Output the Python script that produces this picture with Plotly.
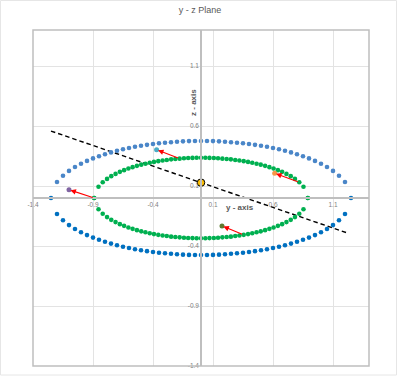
import plotly.graph_objects as go

# ---------------- data ----------------
outer_upper_y = [-1.2, -1.15, -1.1, -1.05, -1.0, -0.95, -0.9, -0.85, -0.8, -0.75, -0.7, -0.65, -0.6,
                 -0.55, -0.5, -0.45, -0.4, -0.35, -0.3, -0.25, -0.2, -0.15, -0.1, -0.05, 0.0,
                 0.05, 0.1, 0.15, 0.2, 0.25, 0.3, 0.35, 0.4, 0.45, 0.5, 0.55, 0.6, 0.65, 0.7,
                 0.75, 0.8, 0.85, 0.9, 0.95, 1.0, 1.05, 1.1, 1.15, 1.2]
outer_upper_z = [0.133, 0.186, 0.226, 0.258, 0.285, 0.309, 0.330, 0.348, 0.365, 0.380, 0.394, 0.406, 0.417,
                 0.427, 0.435, 0.443, 0.450, 0.456, 0.461, 0.465, 0.469, 0.472, 0.474, 0.475, 0.475,
                 0.475, 0.474, 0.472, 0.469, 0.465, 0.461, 0.456, 0.450, 0.443, 0.435, 0.427, 0.417, 0.406, 0.394,
                 0.380, 0.365, 0.348, 0.330, 0.309, 0.285, 0.258, 0.226, 0.186, 0.133]

outer_lower_y = [-1.25, -1.2, -1.15, -1.1, -1.05, -1.0, -0.95, -0.9, -0.85, -0.8, -0.75, -0.7, -0.65, -0.6,
                 -0.55, -0.5, -0.45, -0.4, -0.35, -0.3, -0.25, -0.2, -0.15, -0.1, -0.05, 0.0,
                 0.05, 0.1, 0.15, 0.2, 0.25, 0.3, 0.35, 0.4, 0.45, 0.5, 0.55, 0.6, 0.65, 0.7,
                 0.75, 0.8, 0.85, 0.9, 0.95, 1.0, 1.05, 1.1, 1.15, 1.2, 1.25]
outer_lower_z = [0.0, -0.133, -0.186, -0.226, -0.258, -0.285, -0.309, -0.330, -0.348, -0.365, -0.380, -0.394, -0.406, -0.417,
                 -0.427, -0.435, -0.443, -0.450, -0.456, -0.461, -0.465, -0.469, -0.472, -0.474, -0.475, -0.475,
                 -0.475, -0.474, -0.472, -0.469, -0.465, -0.461, -0.456, -0.450, -0.443, -0.435, -0.427, -0.417, -0.406, -0.394,
                 -0.380, -0.365, -0.348, -0.330, -0.309, -0.285, -0.258, -0.226, -0.186, -0.133, 0.0]

inner_y = [-0.890, -0.854, -0.819, -0.783, -0.748, -0.712, -0.676, -0.641, -0.605, -0.570, -0.534, -0.498, -0.463,
           -0.427, -0.392, -0.356, -0.320, -0.285, -0.249, -0.214, -0.178, -0.142, -0.107, -0.071, -0.036, 0.0,
           0.036, 0.071, 0.107, 0.142, 0.178, 0.214, 0.249, 0.285, 0.320, 0.356, 0.392, 0.427, 0.463,
           0.498, 0.534, 0.570, 0.605, 0.641, 0.676, 0.712, 0.748, 0.783, 0.819, 0.854, 0.890]
inner_upper_z = [0.0, 0.094, 0.131, 0.159, 0.182, 0.201, 0.218, 0.232, 0.246, 0.257, 0.268, 0.278, 0.286,
                 0.294, 0.301, 0.307, 0.313, 0.317, 0.322, 0.325, 0.328, 0.331, 0.333, 0.334, 0.335, 0.335,
                 0.335, 0.334, 0.333, 0.331, 0.328, 0.325, 0.322, 0.317, 0.313, 0.307, 0.301, 0.294, 0.286,
                 0.278, 0.268, 0.257, 0.246, 0.232, 0.218, 0.201, 0.182, 0.159, 0.131, 0.094, 0.0]
inner_lower_z = [0.0, -0.094, -0.131, -0.159, -0.182, -0.201, -0.218, -0.232, -0.246, -0.257, -0.268, -0.278, -0.286,
                 -0.294, -0.301, -0.307, -0.313, -0.317, -0.322, -0.325, -0.328, -0.331, -0.333, -0.334, -0.335, -0.335,
                 -0.335, -0.334, -0.333, -0.331, -0.328, -0.325, -0.322, -0.317, -0.313, -0.307, -0.301, -0.294, -0.286,
                 -0.278, -0.268, -0.257, -0.246, -0.232, -0.218, -0.201, -0.182, -0.159, -0.131, -0.094, 0.0]

line_y = [-1.25, 1.23]
line_z = [0.558, -0.295]

center_y = [0.0]
center_z = [0.128]

point_y = [-1.10, -0.37, 0.614, 0.175]
point_z = [0.069, 0.403, 0.206, -0.233]
point_colors = ["#8064a2", "#4bacc6", "#f79646", "#5f7a30"]

arrow_tail_y = [-0.890, -0.178, 0.819, 0.356]
arrow_tail_z = [0.0, 0.328, 0.131, -0.307]

x_ticks = [-1.4, -0.9, -0.4, 0.1, 0.6, 1.1]
z_ticks = [-1.4, -0.9, -0.4, 0.1, 0.6, 1.1]

# ---------------- figure ----------------
fig = go.Figure()

fig.add_trace(go.Scatter(x=line_y, y=line_z, mode="lines",
                         line=dict(color="black", width=1.4, dash="4.5px,3px"),
                         hoverinfo="skip", showlegend=False))

fig.add_trace(go.Scatter(x=outer_upper_y, y=outer_upper_z, mode="markers",
                         marker=dict(color="#4a86c8", size=4.6), showlegend=False))
fig.add_trace(go.Scatter(x=outer_lower_y, y=outer_lower_z, mode="markers",
                         marker=dict(color="#0070c0", size=4.6), showlegend=False))
fig.add_trace(go.Scatter(x=inner_y, y=inner_upper_z, mode="markers",
                         marker=dict(color="#00b050", size=4.6), showlegend=False))
fig.add_trace(go.Scatter(x=inner_y, y=inner_lower_z, mode="markers",
                         marker=dict(color="#00b050", size=4.6), showlegend=False))

fig.add_trace(go.Scatter(x=point_y, y=point_z, mode="markers",
                         marker=dict(color=point_colors, size=5), showlegend=False))
fig.add_trace(go.Scatter(x=center_y, y=center_z, mode="markers",
                         marker=dict(color="#ffc000", size=7.5, line=dict(color="black", width=1)),
                         showlegend=False))

for hx, hz, tx, tz in zip(point_y, point_z, arrow_tail_y, arrow_tail_z):
    fig.add_annotation(x=hx, y=hz, ax=tx, ay=tz, xref="x", yref="y", axref="x", ayref="y",
                       showarrow=True, arrowhead=2, arrowsize=1.0, arrowwidth=1.1,
                       arrowcolor="#ff0000", standoff=1.5, text="")

# axis titles
fig.add_annotation(x=-0.067, y=0.80, xref="x", yref="y", text="<b>z - axis</b>", textangle=-90,
                   showarrow=False, font=dict(size=8, color="#595959", family="Liberation Sans"))
fig.add_annotation(x=0.325, y=-0.083, xref="x", yref="y", text="<b>y - axis</b>",
                   showarrow=False, font=dict(size=8, color="#595959", family="Liberation Sans"))

W, H = 400, 377
L, R, T, B = 33, 31, 30, 11
pw, ph = W - L - R, H - T - B

# outer chart border
fig.add_shape(type="rect", xref="paper", yref="paper",
              x0=(0.5 - L) / pw, x1=(396.5 - L) / pw,
              y0=(H - B - 375) / ph, y1=(H - B - 0.5) / ph,
              line=dict(color="#e6e6e6", width=1), layer="below")
# plot area border
fig.add_shape(type="rect", xref="paper", yref="paper", x0=0, x1=1, y0=0, y1=1,
              line=dict(color="#bfbfbf", width=1.5), layer="above")

tickfont = dict(size=6.5, color="#7f7f7f", family="Liberation Sans")
fig.update_layout(
    width=W, height=H,
    margin=dict(l=L, r=R, t=T, b=B, autoexpand=False),
    paper_bgcolor="white", plot_bgcolor="white",
    title=dict(text="y - z Plane", x=0.5, xanchor="center", y=1 - 10 / H, yanchor="middle",
               font=dict(size=9, color="#595959", family="Liberation Sans")),
    xaxis=dict(range=[-1.4, 1.4], tickvals=x_ticks, ticktext=[str(v) for v in x_ticks],
               showgrid=True, gridcolor="#e3e3e3", gridwidth=1, zeroline=False,
               showline=True, linecolor="#bfbfbf", linewidth=1.5,
               anchor="free", position=0.5, ticks="", tickfont=tickfont),
    yaxis=dict(range=[-1.4, 1.4], tickvals=z_ticks, ticktext=[str(v) for v in z_ticks],
               showgrid=True, gridcolor="#e3e3e3", gridwidth=1, zeroline=False,
               showline=True, linecolor="#bfbfbf", linewidth=1.5,
               anchor="free", position=0.5, ticks="", tickfont=tickfont),
)

fig.write_html("out.html")
